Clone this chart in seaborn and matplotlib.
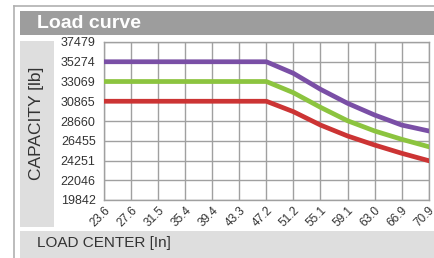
import matplotlib
matplotlib.use("Agg")
import matplotlib.pyplot as plt
from matplotlib.patches import Rectangle
from matplotlib.lines import Line2D
import seaborn as sns
import pandas as pd

# ── Data ────────────────────────────────────────────────────────────────
load_center = ["23.6", "27.6", "31.5", "35.4", "39.4", "43.3", "47.2",
               "51.2", "55.1", "59.1", "63.0", "66.9", "70.9"]
cap_high = [35274, 35274, 35274, 35274, 35274, 35274, 35274,
            33985, 32200, 30640, 29330, 28210, 27550]
cap_mid = [33069, 33069, 33069, 33069, 33069, 33069, 33069,
           31820, 30190, 28690, 27550, 26620, 25790]
cap_low = [30865, 30865, 30865, 30865, 30865, 30865, 30865,
           29700, 28210, 26990, 25980, 25060, 24230]
y_ticks = [19842, 22046, 24251, 26455, 28660, 30865, 33069, 35274, 37479]

series_colors = {"high": "#7a4fa6", "mid": "#8cc43f", "low": "#cc3434"}

df = pd.DataFrame({
    "pos": list(range(len(load_center))) * 3,
    "capacity": cap_high + cap_mid + cap_low,
    "series": ["high"] * 13 + ["mid"] * 13 + ["low"] * 13,
})

W, H = 435, 258
fig = plt.figure(figsize=(W / 100, H / 100), dpi=100)
fig.patch.set_facecolor("white")


def px_rect(x0, y0, x1, y1, color):
    # pixel box (top-left origin) -> figure rectangle
    fig.patches.append(Rectangle((x0 / W, 1 - y1 / H), (x1 - x0) / W, (y1 - y0) / H,
                                 transform=fig.transFigure, facecolor=color,
                                 edgecolor="none", zorder=0))


# ── Frame panels ────────────────────────────────────────────────────────
px_rect(20, 11, W, 35, "#9d9d9d")      # title bar
px_rect(20, 41, 54, 227, "#dedede")    # y label panel
px_rect(20, 231, W, H, "#dedede")      # x label panel
fig.lines.append(Line2D([14 / W, 14 / W], [0, 1 - 6 / H], transform=fig.transFigure,
                        color="#b0b0b0", lw=1.2))
fig.lines.append(Line2D([14 / W, 1], [1 - 6 / H, 1 - 6 / H], transform=fig.transFigure,
                        color="#b0b0b0", lw=1.2))

fig.text(37 / W, 1 - 23.5 / H, "Load curve", color="white", fontsize=14,
         fontweight="bold", family="Liberation Sans", va="center", ha="left")
fig.text(37 / W, 1 - 123 / H, "CAPACITY [lb]", color="#333333", fontsize=12.5,
         family="Liberation Sans", rotation=90, va="center", ha="center")
fig.text(37 / W, 1 - 243 / H, "LOAD CENTER [In]", color="#333333", fontsize=11,
         family="Liberation Sans", va="center", ha="left")

# ── Plot ────────────────────────────────────────────────────────────────
ax = fig.add_axes([104 / W, 1 - 200 / H, (428.7 - 104) / W, (200 - 42) / H])
sns.lineplot(data=df, x="pos", y="capacity", hue="series", palette=series_colors,
             lw=3.4, legend=False, ax=ax, zorder=3)

ax.set_xlim(0, len(load_center) - 1)
ax.set_ylim(y_ticks[0], y_ticks[-1])
ax.set_xticks(range(len(load_center)))
ax.set_xticklabels(load_center, fontsize=8.5, family="Liberation Sans", color="#333333")
ax.set_yticks(y_ticks)
ax.set_yticklabels([str(v) for v in y_ticks], fontsize=9, family="Liberation Sans",
                   color="#333333")
ax.tick_params(length=0, pad=6)
ax.tick_params(axis="x", pad=3)
for lbl in ax.get_xticklabels():
    lbl.set_rotation(45)
    lbl.set_horizontalalignment("right")
    lbl.set_rotation_mode("anchor")
ax.grid(True, color="#a0a0a0", lw=1)
ax.set_axisbelow(True)
for s in ax.spines.values():
    s.set_color("#a0a0a0")
    s.set_linewidth(1)
ax.set_xlabel("")
ax.set_ylabel("")

fig.savefig("out.png", dpi=100)
